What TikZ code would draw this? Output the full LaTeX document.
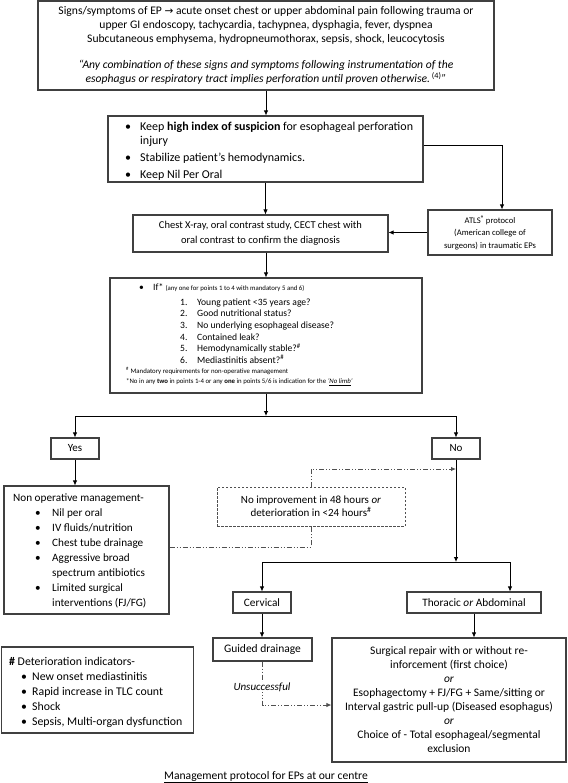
\documentclass[tikz,border=0pt]{standalone}
\usepackage{fontspec}
\setmainfont{Carlito}
\newfontfamily\djv{DejaVu Sans}
\usetikzlibrary{arrows.meta}
\definecolor{bordercol}{HTML}{404040}
\definecolor{ddcol}{HTML}{505050}
\begin{document}
\begin{tikzpicture}[x=1pt,y=-1pt,
  box/.style={draw=bordercol, line width=1.1pt, inner sep=0pt, align=center},
  dashbox/.style={draw=ddcol, line width=0.9pt, dash pattern=on 2.5pt off 1.5pt, inner sep=0pt, align=center},
  txt/.style={anchor=west, inner sep=0pt},
  arr/.style={draw=black, line width=0.8pt, -{Latex[length=5pt,width=4.5pt]}},
  dd/.style={draw=ddcol, line width=0.9pt, dash pattern=on 5pt off 2pt on 1pt off 2pt on 1pt off 2pt},
  ddarr/.style={dd, -{Latex[length=5pt,width=4.5pt]}},
]
\fill[white] (0,0) rectangle (567,783);
\useasboundingbox (0,0) rectangle (567,783);

% top box
\node[box, minimum width=456pt, minimum height=89pt, font=\fontsize{11.6}{14}\selectfont] (top) at (266,45.5) {%
Signs/symptoms of EP {\djv\fontsize{10.5}{14}\selectfont →} acute onset chest or upper abdominal pain following trauma or\\
upper GI endoscopy, tachycardia, tachypnea, dysphagia, fever, dyspnea\\
Subcutaneous emphysema, hydropneumothorax, sepsis, shock, leucocytosis\\[12pt]
\textit{“Any combination of these signs and symptoms following instrumentation of the}\\
\textit{esophagus or respiratory tract implies perforation until proven otherwise.\,\textsuperscript{\upshape(4)}”}};

% box 2
\node[box, minimum width=315pt, minimum height=66pt] (b2) at (265.5,149) {};
\node[txt, font=\fontsize{12}{14}\selectfont] (b2t) at (125,151.5) {\begin{tabular}{@{}p{15pt}@{}l@{}}
\textbullet & Keep \textbf{high index of suspicion} for esophageal perforation\\
 & injury\\[3pt]
\textbullet & Stabilize patient’s hemodynamics.\\[3pt]
\textbullet & Keep Nil Per Oral
\end{tabular}};

% box 3
\node[box, minimum width=255pt, minimum height=37pt, font=\fontsize{10.5}{15}\selectfont] (b3) at (260.5,233.5) {Chest X-ray, oral contrast study, CECT chest with\\oral contrast to confirm the diagnosis};

% ATLS
\node[box, minimum width=124pt, minimum height=45pt, font=\fontsize{8.6}{12.5}\selectfont] (atls) at (490,232.5) {ATLS\raisebox{3pt}{\fontsize{6.5}{7}\selectfont\bfseries ®} protocol\\(American college of\\surgeons) in traumatic EPs};

% criteria
\node[box, minimum width=312pt, minimum height=115pt] (crit) at (266,335.5) {};
\node[txt, font=\fontsize{9.6}{11.6}\selectfont] (critt) at (126,334.5) {\begin{tabular}{@{}l@{}}
\hspace*{13pt}\makebox[14pt][l]{\textbullet}If* {\fontsize{6.8}{8}\selectfont (any one for points 1 to 4 with mandatory 5 and 6)}\\[3.4pt]
\hspace*{54pt}\makebox[17pt][l]{1.}Young patient <35 years age?\\
\hspace*{54pt}\makebox[17pt][l]{2.}Good nutritional status?\\
\hspace*{54pt}\makebox[17pt][l]{3.}No underlying esophageal disease?\\
\hspace*{54pt}\makebox[17pt][l]{4.}Contained leak?\\
\hspace*{54pt}\makebox[17pt][l]{5.}Hemodynamically stable?\textsuperscript{\#}\\
\hspace*{54pt}\makebox[17pt][l]{6.}Mediastinitis absent?\textsuperscript{\#}\\[-1.6pt]
{\fontsize{6.8}{8}\selectfont \textsuperscript{\#} Mandatory requirements for non-operative management}\\[-1.6pt]
{\fontsize{6.8}{8}\selectfont *No in any \textbf{two} in points 1-4 or any \textbf{one} in points 5/6 is indication for the \textit{‘\underline{No limb}’}}
\end{tabular}};

% yes / no
\node[box, minimum width=48pt, minimum height=21pt, font=\fontsize{11}{13}\selectfont] (yes) at (75,448.5) {Yes};
\node[box, minimum width=48pt, minimum height=21pt, font=\fontsize{11}{13}\selectfont] (no) at (456,448.5) {No};

% non operative
\node[box, minimum width=165pt, minimum height=128pt] (nonop) at (86.5,550) {};
\node[txt, font=\fontsize{11.2}{15}\selectfont] (nonopt) at (13,550.5) {\begin{tabular}{@{}l@{}}
Non operative management-\\
\hspace*{22pt}\makebox[17pt][l]{\textbullet}Nil per oral\\
\hspace*{22pt}\makebox[17pt][l]{\textbullet}IV fluids/nutrition\\
\hspace*{22pt}\makebox[17pt][l]{\textbullet}Chest tube drainage\\
\hspace*{22pt}\makebox[17pt][l]{\textbullet}Aggressive broad\\
\hspace*{39pt}spectrum antibiotics\\
\hspace*{22pt}\makebox[17pt][l]{\textbullet}Limited surgical\\
\hspace*{39pt}interventions (FJ/FG)
\end{tabular}};

% dashed box
\node[dashbox, minimum width=188pt, minimum height=39pt, font=\fontsize{11}{13}\selectfont] (dbox) at (311,506.5) {No improvement in 48 hours \textit{or}\\deterioration in <24 hours\textsuperscript{\#}};

% cervical / thoracic
\node[box, minimum width=58pt, minimum height=21pt, font=\fontsize{11.3}{13}\selectfont] (cerv) at (262,602.5) {Cervical};
\node[box, minimum width=134pt, minimum height=21pt, font=\fontsize{11.3}{13}\selectfont] (thor) at (474,602.5) {Thoracic \textit{or} Abdominal};

% guided drainage
\node[box, minimum width=99pt, minimum height=23pt, font=\fontsize{11.5}{13}\selectfont] (guided) at (262.5,649.5) {Guided drainage};

% surgical
\node[box, minimum width=234pt, minimum height=124pt, font=\fontsize{11.5}{14}\selectfont] (surg) at (449,700) {Surgical repair with or without re-\\inforcement (first choice)\\\textit{or}\\Esophagectomy + FJ/FG + Same/sitting or\\Interval gastric pull-up (Diseased esophagus)\\\textit{or}\\Choice of - Total esophageal/segmental\\exclusion};

% deterioration
\node[box, minimum width=192pt, minimum height=86pt] (det) at (97.5,690) {};
\node[txt, font=\fontsize{11.8}{15}\selectfont] (dett) at (9,692.5) {\begin{tabular}{@{}l@{}}
\textbf{\#} Deterioration indicators-\\
\hspace*{12pt}\makebox[11pt][l]{\textbullet}New onset mediastinitis\\
\hspace*{12pt}\makebox[11pt][l]{\textbullet}Rapid increase in TLC count\\
\hspace*{12pt}\makebox[11pt][l]{\textbullet}Shock\\
\hspace*{12pt}\makebox[11pt][l]{\textbullet}Sepsis, Multi-organ dysfunction
\end{tabular}};

% caption
\node[font=\fontsize{11.6}{13}\selectfont] (cap) at (266,777) {\underline{Management protocol for EPs at our centre}};

% connectors
\draw[arr] (top.south) -- (top.south |- b2.north);
\draw[arr] ([yshift=4pt]b2.east) -| ([xshift=12pt]atls.north);
\draw[arr] (atls.west) -- (atls.west -| b3.east);
\draw[arr] (b2.south) -- (b2.south |- b3.north);
\draw[arr] (b3.south -| crit.north) -- (crit.north);
\coordinate (s1) at (266,416);
\draw[arr] (crit.south) -- (s1);
\draw[arr] (s1) -| (yes.north);
\draw[arr] (s1) -| (no.north);
\draw[arr] (yes.south) -- (yes.south |- nonop.north);
\coordinate (s2) at (456,562);
\draw[arr] (no.south) -- (s2);
\draw[arr] (s2) -| (cerv.north);
\draw[arr] (s2) -| ([xshift=36pt]thor.north);
\draw[arr] (cerv.south) -- (cerv.south |- guided.north);
\draw[arr] (thor.south) -- (thor.south |- surg.north);
\draw[dd] ([yshift=3pt]nonop.east) -| (dbox.south);
\coordinate (nj) at (456,469);
\draw[ddarr] (dbox.north) |- (nj);
\draw[ddarr] (guided.south) |- ([yshift=-5pt]surg.west);
\node[fill=white, inner sep=1pt, font=\fontsize{11}{13}\selectfont\itshape] (uns) at (262,687) {Unsuccessful};
\end{tikzpicture}
\end{document}
